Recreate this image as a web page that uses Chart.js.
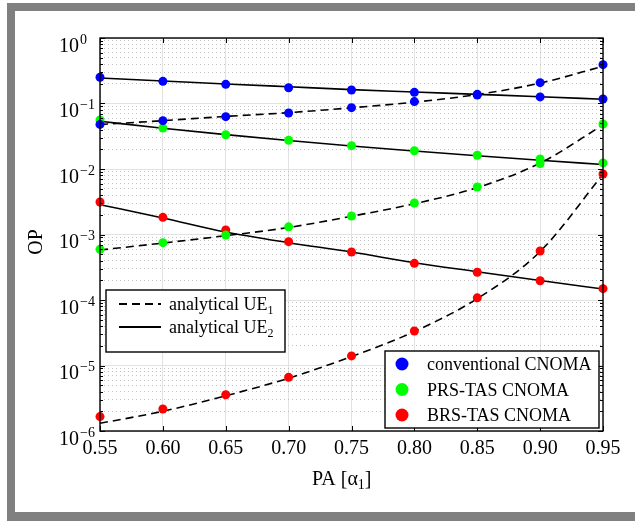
<!DOCTYPE html>
<html lang="en">
<head>
  <meta charset="UTF-8" />
  <title>OP vs PA</title>
  <script src="https://cdn.jsdelivr.net/npm/chart.js"></script>
  <style>
    html, body { margin: 0; padding: 0; width: 635px; height: 521px; overflow: hidden; background: #fff; }
    .frame { position: absolute; left: 7px; top: 3px; width: 700px; height: 600px; background: #808080; }
    .sheet { position: absolute; left: 15px; top: 11px; width: 700px; height: 501px; background: #fff; }
    .plot { position: absolute; left: 15px; top: 11px; width: 620px; height: 501px; }
  </style>
</head>
<body>
  <div class="frame"></div>
  <div class="sheet"></div>
  <div class="plot"><canvas id="opChart" width="620" height="501"></canvas></div>

  <script>
    // power allocation values (x axis)
    const paValues = [0.55, 0.60, 0.65, 0.70, 0.75, 0.80, 0.85, 0.90, 0.95];
    const xTickLabels = ['0.55', '0.60', '0.65', '0.70', '0.75', '0.80', '0.85', '0.90', '0.95'];
    // decades shown on the OP axis
    const yExponents = [0, -1, -2, -3, -4, -5, -6];

    // conventional CNOMA
    const convSimUE1 = [0.048, 0.0547, 0.063, 0.0716, 0.0863, 0.107, 0.135, 0.208, 0.392];
    const convSimUE2 = [0.252, 0.218, 0.196, 0.174, 0.161, 0.148, 0.138, 0.126, 0.117];
    const convAnaUE1 = [0.0477, 0.0547, 0.0635, 0.0725, 0.086, 0.105, 0.137, 0.205, 0.37];
    const convAnaUE2 = [0.245, 0.221, 0.199, 0.180, 0.163, 0.150, 0.138, 0.127, 0.116];

    // PRS-TAS CNOMA
    const prsSimUE1 = [5.94e-4, 7.5e-4, 9.8e-4, 1.31e-3, 1.92e-3, 3.03e-3, 5.31e-3, 0.0121, 0.0486];
    const prsSimUE2 = [0.056, 0.0423, 0.0334, 0.0274, 0.0227, 0.019, 0.0162, 0.0142, 0.0124];
    const prsAnaUE1 = [5.8e-4, 7.4e-4, 9.6e-4, 1.28e-3, 1.9e-3, 2.95e-3, 5.2e-3, 0.0123, 0.047];
    const prsAnaUE2 = [0.0535, 0.042, 0.0335, 0.0272, 0.0224, 0.0188, 0.0159, 0.0136, 0.0117];

    // BRS-TAS CNOMA
    const brsSimUE1 = [1.66e-6, 2.17e-6, 3.58e-6, 6.59e-6, 1.40e-5, 3.36e-5, 1.08e-4, 5.6e-4, 8.4e-3];
    const brsSimUE2 = [3.13e-3, 1.83e-3, 1.17e-3, 7.78e-4, 5.4e-4, 3.63e-4, 2.65e-4, 1.97e-4, 1.49e-4];
    const brsAnaUE1 = [1.31e-6, 2.0e-6, 3.45e-6, 6.4e-6, 1.37e-5, 3.3e-5, 1.05e-4, 5.5e-4, 8.3e-3];
    const brsAnaUE2 = [2.85e-3, 1.79e-3, 1.09e-3, 7.5e-4, 5.4e-4, 3.7e-4, 2.7e-4, 1.98e-4, 1.47e-4];

    const schemeNames = ['conventional CNOMA', 'PRS-TAS CNOMA', 'BRS-TAS CNOMA'];
    const schemeColors = ['#0000ff', '#00ff00', '#ff0000'];

    const serif = '"Liberation Serif", "Times New Roman", serif';

    // minor grid values 2..9 x 10^e
    const minorValues = [];
    for (let e = -6; e < 0; e++) {
      for (let k = 2; k <= 9; k++) minorValues.push(k * Math.pow(10, e));
    }

    function pts(vals) {
      return vals.map((v, i) => ({ x: paValues[i], y: v }));
    }

    function analytical(vals, dashed) {
      return {
        data: pts(vals),
        borderColor: '#000',
        borderWidth: 1.6,
        borderDash: dashed ? [8, 5] : [],
        pointRadius: 0,
        cubicInterpolationMode: 'monotone',
        fill: false,
        order: 1,
        yAxisID: 'y'
      };
    }

    function simulated(vals, color) {
      return {
        data: pts(vals),
        showLine: false,
        pointRadius: 4.5,
        pointBackgroundColor: color,
        pointBorderWidth: 0,
        clip: false,
        order: 0,
        yAxisID: 'y'
      };
    }

    // axis box, inward ticks, tick labels, titles and both legends
    const decorations = {
      id: 'decorations',
      afterDraw(chart) {
        const { ctx, chartArea: a, scales: { x, y } } = chart;
        ctx.save();

        ctx.strokeStyle = '#000';
        ctx.lineWidth = 1;
        ctx.beginPath();
        minorValues.forEach(v => {
          const py = Math.round(y.getPixelForValue(v)) + 0.5;
          ctx.moveTo(a.left, py); ctx.lineTo(a.left + 3, py);
          ctx.moveTo(a.right, py); ctx.lineTo(a.right - 3, py);
        });
        yExponents.forEach(e => {
          const py = Math.round(y.getPixelForValue(Math.pow(10, e))) + 0.5;
          ctx.moveTo(a.left, py); ctx.lineTo(a.left + 5, py);
          ctx.moveTo(a.right, py); ctx.lineTo(a.right - 5, py);
        });
        paValues.forEach(v => {
          const px = Math.round(x.getPixelForValue(v)) + 0.5;
          ctx.moveTo(px, a.bottom); ctx.lineTo(px, a.bottom - 5);
          ctx.moveTo(px, a.top); ctx.lineTo(px, a.top + 5);
        });
        ctx.stroke();

        ctx.lineWidth = 1.4;
        ctx.strokeRect(a.left, a.top, a.right - a.left, a.bottom - a.top);

        ctx.fillStyle = '#000';
        ctx.textBaseline = 'alphabetic';

        // y tick labels 10^e
        yExponents.forEach(e => {
          const py = y.getPixelForValue(Math.pow(10, e));
          ctx.font = '20px ' + serif;
          ctx.textAlign = 'left';
          ctx.fillText('10', 44, py + 13.5);
          const w = ctx.measureText('10').width;
          ctx.font = '14px ' + serif;
          ctx.fillText(e < 0 ? '\u2212' + (-e) : '0', 44 + w + 1, py + 5.5);
        });

        // x tick labels
        ctx.font = '20px ' + serif;
        ctx.textAlign = 'center';
        paValues.forEach((v, i) => {
          ctx.fillText(xTickLabels[i], x.getPixelForValue(v), 442.5);
        });

        // x title with subscript
        ctx.textAlign = 'left';
        let tx = 297;
        ctx.font = '20px ' + serif;
        ctx.fillText('PA [\u03b1', tx, 474);
        tx += ctx.measureText('PA [\u03b1').width;
        ctx.font = '14px ' + serif;
        ctx.fillText('1', tx, 478);
        tx += ctx.measureText('1').width;
        ctx.font = '20px ' + serif;
        ctx.fillText(']', tx, 474);

        // y title
        ctx.save();
        ctx.translate(27, 231);
        ctx.rotate(-Math.PI / 2);
        ctx.textAlign = 'center';
        ctx.font = '20px ' + serif;
        ctx.fillText('OP', 0, 0);
        ctx.restore();

        // line style legend
        ctx.fillStyle = '#fff';
        ctx.fillRect(91, 279, 179, 62);
        ctx.lineWidth = 1.4;
        ctx.strokeStyle = '#000';
        ctx.strokeRect(91, 279, 179, 62);
        [[293, true, '1'], [316, false, '2']].forEach(([ly, dashed, sub]) => {
          ctx.beginPath();
          ctx.lineWidth = 2;
          ctx.setLineDash(dashed ? [8, 5] : []);
          ctx.moveTo(104, ly); ctx.lineTo(146, ly);
          ctx.stroke();
          ctx.setLineDash([]);
          ctx.fillStyle = '#000';
          ctx.textAlign = 'left';
          ctx.font = '18px ' + serif;
          ctx.fillText('analytical UE', 154, ly + 6);
          const w = ctx.measureText('analytical UE').width;
          ctx.font = '12px ' + serif;
          ctx.fillText(sub, 154 + w, ly + 10);
        });

        // scheme legend
        ctx.fillStyle = '#fff';
        ctx.fillRect(370, 340, 214, 77);
        ctx.lineWidth = 1.4;
        ctx.strokeRect(370, 340, 214, 77);
        schemeNames.forEach((name, i) => {
          const ly = 353 + i * 25.5;
          ctx.beginPath();
          ctx.fillStyle = schemeColors[i];
          ctx.arc(387, ly, 6.5, 0, Math.PI * 2);
          ctx.fill();
          ctx.fillStyle = '#000';
          ctx.font = '18px ' + serif;
          ctx.fillText(name, 412, ly + 6);
        });

        ctx.restore();
      }
    };

    const ctx = document.getElementById('opChart').getContext('2d');
    new Chart(ctx, {
      type: 'line',
      data: {
        datasets: [
          simulated(convSimUE2, schemeColors[0]),
          simulated(convSimUE1, schemeColors[0]),
          simulated(prsSimUE2, schemeColors[1]),
          simulated(prsSimUE1, schemeColors[1]),
          simulated(brsSimUE2, schemeColors[2]),
          simulated(brsSimUE1, schemeColors[2]),
          analytical(convAnaUE2, false),
          analytical(convAnaUE1, true),
          analytical(prsAnaUE2, false),
          analytical(prsAnaUE1, true),
          analytical(brsAnaUE2, false),
          analytical(brsAnaUE1, true)
        ]
      },
      options: {
        responsive: false,
        animation: false,
        layout: { padding: { top: 27, right: 32, left: 0, bottom: 0 } },
        plugins: { legend: { display: false }, tooltip: { enabled: false } },
        scales: {
          x: {
            type: 'linear', min: 0.55, max: 0.95,
            afterBuildTicks: s => { s.ticks = paValues.map(v => ({ value: v })); },
            afterFit: s => { s.height = 81; },
            ticks: { display: false },
            grid: { color: '#e2e2e2', drawTicks: false },
            border: { display: false }
          },
          y: {
            type: 'logarithmic', position: 'left', min: 1e-6, max: 1,
            afterBuildTicks: s => { s.ticks = yExponents.map(e => ({ value: Math.pow(10, e) })); },
            afterFit: s => { s.width = 85; },
            ticks: { display: false },
            grid: { color: '#e2e2e2', drawTicks: false },
            border: { display: false }
          },
          yMinor: {
            type: 'logarithmic', position: 'left', min: 1e-6, max: 1,
            afterBuildTicks: s => { s.ticks = minorValues.map(v => ({ value: v })); },
            afterFit: s => { s.width = 0; },
            ticks: { display: false },
            grid: { color: '#c2c2c2', drawTicks: false },
            border: { display: false, dash: [1, 3] }
          }
        }
      },
      plugins: [decorations]
    });
  </script>
</body>
</html>
